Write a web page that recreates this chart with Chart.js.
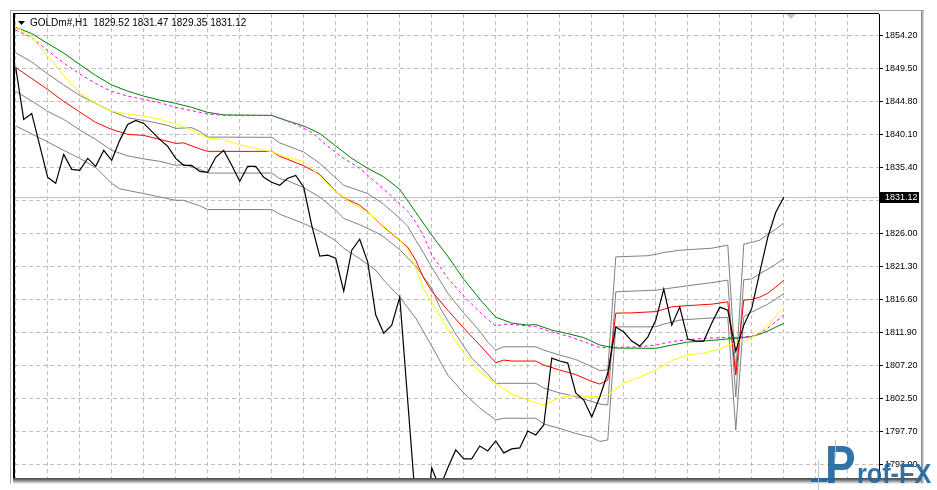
<!DOCTYPE html>
<html>
<head>
<meta charset="utf-8">
<script src="https://cdn.jsdelivr.net/npm/chart.js@4.4.1/dist/chart.umd.min.js"></script>
<style>
html,body{margin:0;padding:0;background:#ffffff;}
canvas{display:block;}
</style>
</head>
<body>
<canvas id="c" width="937" height="490" style="width:937px;height:490px"></canvas>
<script>
// ---- header ----
const symbolName = 'GOLDm#,H1';
const lastOHLC = [1829.52, 1831.47, 1829.35, 1831.12];

// ---- price axis ----
const yTickValues = [1854.2, 1849.5, 1844.8, 1840.1, 1835.4, 1830.7, 1826.0, 1821.3, 1816.6, 1811.9, 1807.2, 1802.5, 1797.7, 1793.0];
const yTickLabels = ['1854.20','1849.50','1844.80','1840.10','1835.40','1830.70','1826.00','1821.30','1816.60','1811.90','1807.20','1802.50','1797.70','1793.00'];
const xGridBars = [0,4,8,12,16,20,24,28,32,36,40,44,48,52,56,60,64,68,72,76,80,84,88,92,96,100,104];

// ---- close prices, one per bar (bar 0 .. 96) ----
const closes = [
 1849.64, 1842.24, 1843.09, 1838.54, 1833.98, 1833.12, 1837.25, 1835.12, 1834.98, 1836.68,
 1835.55, 1837.82, 1836.40, 1839.25, 1841.53, 1842.10, 1841.67, 1840.53, 1839.39, 1838.39,
 1836.68, 1835.69, 1835.69, 1834.83, 1834.69, 1836.83, 1837.82, 1835.69, 1833.41, 1835.55,
 1835.55, 1833.98, 1833.27, 1832.84, 1833.84, 1834.26, 1832.56, 1827.14, 1822.73, 1822.87,
 1822.44, 1817.75, 1823.58, 1825.15, 1821.88, 1814.33, 1811.76, 1812.90, 1816.89, 1802.08,
 1787.27, 1782.29, 1792.54, 1789.69, 1792.54, 1795.10, 1793.82, 1793.82, 1795.67, 1794.96,
 1796.39, 1794.68, 1795.25, 1795.39, 1797.81, 1797.24, 1798.66, 1808.20, 1807.78, 1807.49,
 1803.22, 1802.22, 1799.80, 1802.65, 1806.07, 1812.62, 1811.91, 1810.63, 1809.91, 1811.20,
 1813.62, 1818.03, 1812.90, 1815.47, 1810.91, 1810.63, 1810.63, 1813.19, 1815.47, 1815.04,
 1809.20, 1812.90, 1815.32, 1820.45, 1825.44, 1829.00, 1831.12
];

// ---- indicator lines: [bar, price] ----
const redLine = [[0,1849.64],[2,1848.08],[4,1846.51],[6,1844.80],[8,1843.31],[10,1841.81],[12,1840.81],[14,1840.10],[16,1839.96],[18,1839.39],[20,1838.82],[21,1838.89],[23,1838.04],[24,1837.68],[32,1837.68],[33,1836.97],[34,1836.54],[36,1835.62],[38,1834.41],[40,1831.99],[41,1831.06],[43,1829.99],[44,1829.04],[46,1826.90],[48,1825.01],[49,1824.01],[50,1822.16],[51,1819.60],[52,1817.75],[54,1815.04],[56,1812.48],[58,1810.06],[60,1807.54],[61,1807.92],[62,1807.78],[65,1807.78],[66,1807.21],[68,1806.50],[70,1805.85],[72,1804.86],[73,1804.50],[74,1805.07],[75,1814.61],[77,1814.65],[80,1814.83],[82,1815.51],[83,1815.61],[85,1815.75],[87,1815.89],[89,1816.22],[90,1805.78],[91,1816.46],[92,1816.56],[93,1816.89],[94,1817.46],[95,1818.32],[96,1819.31]];

const grayTop = [[0,1851.74],[2,1850.43],[4,1848.72],[6,1847.15],[8,1845.66],[10,1844.52],[12,1843.38],[14,1842.48],[17,1841.88],[19,1841.38],[20,1840.96],[22,1841.06],[23,1840.53],[24,1839.72],[32,1839.68],[33,1838.89],[34,1838.46],[36,1837.58],[38,1835.97],[40,1833.91],[41,1832.84],[42,1832.46],[44,1831.66],[46,1830.13],[48,1828.14],[49,1827.00],[50,1825.01],[51,1823.16],[52,1821.16],[54,1817.46],[56,1814.61],[58,1812.05],[59,1810.48],[60,1809.34],[61,1809.81],[65,1809.81],[66,1809.34],[68,1808.63],[70,1807.99],[72,1806.99],[73,1806.42],[74,1806.50],[75,1822.63],[79,1822.80],[80,1823.01],[81,1823.26],[83,1823.58],[85,1823.73],[87,1823.87],[89,1824.30],[90,1806.21],[91,1824.44],[92,1824.72],[93,1825.01],[94,1825.86],[95,1826.57],[96,1827.47]];

const grayMid = [[0,1846.23],[2,1844.87],[4,1843.38],[6,1842.24],[8,1840.74],[10,1839.39],[12,1837.82],[14,1837.04],[16,1836.61],[18,1836.26],[20,1835.69],[21,1835.79],[23,1835.12],[24,1834.59],[32,1834.59],[33,1833.79],[34,1833.48],[36,1832.51],[38,1831.17],[40,1829.28],[41,1828.10],[43,1827.22],[45,1826.15],[46,1825.48],[48,1823.66],[50,1821.31],[52,1818.17],[53,1815.47],[55,1811.62],[57,1808.20],[59,1805.93],[60,1804.60],[65,1804.60],[66,1803.93],[68,1803.22],[70,1802.72],[72,1802.01],[73,1801.65],[74,1801.51],[75,1817.65],[80,1817.89],[83,1818.36],[85,1818.67],[87,1818.96],[89,1819.31],[90,1802.65],[91,1819.38],[92,1819.49],[93,1820.24],[94,1820.88],[95,1821.59],[96,1822.40]];

const grayBot = [[0,1841.31],[2,1840.17],[4,1839.03],[6,1837.82],[8,1836.68],[10,1835.40],[12,1833.12],[13,1832.34],[16,1831.66],[20,1830.70],[21,1830.70],[23,1829.92],[24,1829.38],[32,1829.38],[33,1828.71],[34,1828.28],[36,1827.39],[38,1826.29],[40,1824.94],[41,1823.87],[43,1822.37],[45,1820.74],[46,1819.31],[48,1816.89],[50,1813.90],[52,1809.91],[54,1805.78],[56,1803.22],[58,1801.08],[60,1799.38],[61,1799.62],[65,1799.62],[66,1798.81],[68,1798.17],[70,1797.45],[72,1796.88],[73,1796.31],[74,1796.53],[75,1812.66],[80,1812.66],[81,1813.05],[83,1813.62],[86,1813.86],[89,1814.00],[90,1797.95],[91,1814.09],[92,1814.76],[93,1815.32],[94,1815.89],[95,1816.61],[96,1817.42]];

const yellowLine = [[0,1855.52],[2,1853.92],[4,1851.35],[6,1848.50],[8,1846.01],[10,1844.52],[12,1843.42],[14,1843.02],[16,1842.71],[18,1842.24],[20,1841.60],[22,1840.74],[24,1839.60],[26,1839.35],[28,1838.61],[30,1838.11],[32,1837.61],[34,1836.76],[36,1836.26],[38,1834.12],[40,1831.99],[42,1830.28],[44,1829.00],[46,1827.00],[48,1825.08],[49,1823.73],[50,1821.02],[51,1818.03],[52,1816.18],[54,1812.33],[56,1808.92],[58,1806.21],[60,1804.60],[62,1803.08],[64,1802.22],[66,1801.51],[68,1802.58],[70,1802.94],[72,1802.65],[74,1802.94],[76,1804.64],[78,1805.50],[80,1806.50],[82,1807.85],[84,1808.63],[86,1808.92],[88,1809.49],[89,1810.06],[91,1810.63],[92,1811.20],[93,1811.91],[94,1812.90],[95,1814.19],[96,1815.40]];

const magentaLine = [[0,1854.98],[2,1853.92],[4,1852.06],[6,1850.28],[8,1848.72],[10,1847.36],[12,1846.23],[14,1845.56],[16,1845.09],[18,1844.62],[20,1843.95],[22,1843.48],[24,1843.02],[26,1842.81],[32,1842.81],[33,1842.38],[35,1841.53],[37,1840.39],[39,1838.39],[41,1836.68],[43,1835.26],[45,1833.27],[47,1831.27],[49,1829.14],[50,1827.57],[51,1825.58],[52,1822.94],[54,1819.60],[56,1817.03],[58,1814.76],[60,1812.76],[61,1813.05],[63,1812.90],[65,1812.69],[67,1811.91],[69,1811.34],[71,1810.55],[73,1809.70],[75,1809.73],[78,1809.81],[80,1810.06],[82,1810.55],[84,1810.84],[86,1811.01],[88,1811.12],[90,1811.15],[92,1811.34],[93,1811.69],[94,1812.48],[95,1813.40],[96,1814.33]];

const greenLine = [[0,1855.38],[2,1854.48],[4,1853.06],[6,1851.71],[8,1850.07],[10,1848.50],[12,1847.15],[14,1846.27],[16,1845.56],[18,1844.99],[20,1844.52],[22,1843.95],[24,1843.24],[26,1842.88],[32,1842.81],[34,1842.02],[36,1841.31],[38,1840.24],[40,1838.46],[42,1836.68],[44,1835.26],[46,1834.05],[48,1832.27],[50,1829.00],[52,1825.72],[54,1822.73],[56,1819.45],[58,1816.61],[60,1814.04],[62,1813.19],[64,1812.90],[65,1812.98],[67,1812.19],[69,1811.69],[71,1811.12],[73,1810.06],[75,1809.63],[80,1809.59],[82,1810.06],[84,1810.48],[87,1810.73],[90,1811.01],[92,1811.27],[93,1811.62],[94,1812.05],[95,1812.62],[96,1813.15]];

// ---------------------------------------------------------------
const toPts = pairs => pairs.map(p => ({x: p[0], y: p[1]}));
const lastClose = closes[closes.length - 1];

function lineDs(label, data, color, extra) {
  return Object.assign({
    label, data, borderColor: color, borderWidth: 1, pointRadius: 0,
    fill: false, tension: 0, clip: 0
  }, extra || {});
}

const chromePlugin = {
  id: 'chrome',
  beforeDraw(chart) {
    const ctx = chart.ctx;
    ctx.save();
    ctx.fillStyle = '#ffffff';
    ctx.fillRect(0, 0, chart.width, chart.height);
    ctx.restore();
  },
  beforeDatasetsDraw(chart) {
    const {ctx, chartArea: a, scales: {y}} = chart;
    const py = Math.round(y.getPixelForValue(lastClose)) + 0.5;
    ctx.save();
    ctx.strokeStyle = '#c0c0c0';
    ctx.lineWidth = 1;
    ctx.beginPath();
    ctx.moveTo(a.left, py);
    ctx.lineTo(a.right, py);
    ctx.stroke();
    ctx.restore();
  },
  afterDraw(chart) {
    const {ctx, chartArea: a, scales: {y}} = chart;
    ctx.save();
    // outer window edges
    ctx.fillStyle = '#a8a8a8';
    ctx.fillRect(10, 10, 914, 1);
    ctx.fillRect(10, 10, 1, 474);
    // black frame
    ctx.fillStyle = '#000000';
    ctx.fillRect(13, 13, a.right - 13, 1);
    ctx.fillRect(13, 13, 2, a.bottom - 13);
    // bottom shadow
    const bs = ['#555555', '#666666', '#888888', '#aaaaaa', '#cccccc', '#e8e8e8'];
    bs.forEach((c, i) => { ctx.fillStyle = c; ctx.fillRect(13, a.bottom + i, 911, 1); });
    // right shadow
    const rs = ['#8a8a8a', '#b0b0b0', '#d8d8d8'];
    rs.forEach((c, i) => { ctx.fillStyle = c; ctx.fillRect(921 + i, 11, 1, a.bottom - 11 + 5); });
    // chart shift marker
    ctx.fillStyle = '#c4c4c4';
    ctx.beginPath();
    ctx.moveTo(786, 14); ctx.lineTo(796, 14); ctx.lineTo(791, 19); ctx.closePath();
    ctx.fill();
    // title
    ctx.fillStyle = '#000000';
    ctx.beginPath();
    ctx.moveTo(18, 21); ctx.lineTo(25, 21); ctx.lineTo(21.5, 25); ctx.closePath();
    ctx.fill();
    ctx.font = '10px "Liberation Sans", Arial, sans-serif';
    ctx.textBaseline = 'alphabetic';
    ctx.textAlign = 'left';
    ctx.fillText(symbolName + '  ' + lastOHLC.map(v => v.toFixed(2)).join(' '), 30, 26);
    // current price label
    const py = Math.round(y.getPixelForValue(lastClose));
    ctx.fillStyle = '#000000';
    ctx.fillRect(a.right, py - 5, 40, 11);
    ctx.fillStyle = '#ffffff';
    ctx.font = '9px "Liberation Sans", Arial, sans-serif';
    ctx.textBaseline = 'middle';
    ctx.fillText(lastClose.toFixed(2), a.right + 6, py + 0.5);
    // logo
    ctx.fillStyle = 'rgba(34,102,160,0.92)';
    ctx.fillRect(811, 478, 16, 4);
    ctx.textBaseline = 'alphabetic';
    ctx.save();
    ctx.translate(825, 483);
    ctx.scale(0.85, 1);
    ctx.font = 'bold 54px "Liberation Sans", Arial, sans-serif';
    ctx.fillText('P', 0, 0);
    ctx.restore();
    ctx.save();
    ctx.translate(857, 483);
    ctx.scale(0.9, 1);
    ctx.font = 'bold 28px "Liberation Sans", Arial, sans-serif';
    ctx.fillText('rof-FX', 0, 0);
    ctx.restore();
    ctx.strokeStyle = 'rgba(160,200,230,0.9)';
    ctx.lineWidth = 1;
    ctx.beginPath();
    ctx.moveTo(818.5, 460); ctx.lineTo(818.5, 490);
    ctx.moveTo(835.5, 440); ctx.lineTo(835.5, 458);
    ctx.stroke();
    ctx.restore();
  }
};

new Chart(document.getElementById('c'), {
  type: 'line',
  data: {
    datasets: [
      lineDs('Close', closes.map((v, i) => ({x: i, y: v})), '#000000', {borderWidth: 1.2}),
      lineDs('MA yellow', toPts(yellowLine), '#ffff00'),
      lineDs('MA magenta', toPts(magentaLine), '#ff00ff', {borderDash: [3, 3]}),
      lineDs('MA green', toPts(greenLine), '#008000'),
      lineDs('Middle', toPts(redLine), '#ff0000'),
      lineDs('Band top', toPts(grayTop), '#808080'),
      lineDs('Band mid', toPts(grayMid), '#808080'),
      lineDs('Band bottom', toPts(grayBot), '#808080')
    ]
  },
  options: {
    responsive: false,
    animation: false,
    devicePixelRatio: 1,
    events: [],
    layout: {padding: {left: 15, top: 14, right: 0, bottom: 12}},
    plugins: {legend: {display: false}, tooltip: {enabled: false}},
    scales: {
      x: {
        type: 'linear',
        min: -0.0875,
        max: 107.9,
        afterBuildTicks: s => { s.ticks = xGridBars.map(v => ({value: v})); },
        afterFit: s => { s.height = 0; },
        ticks: {display: false},
        grid: {color: '#c0c0c0', lineWidth: 1, drawTicks: false},
        border: {display: false, dash: [4, 3]}
      },
      y: {
        type: 'linear',
        position: 'right',
        min: 1791.10,
        max: 1857.27,
        afterBuildTicks: s => { s.ticks = yTickValues.map(v => ({value: v})); },
        afterFit: s => { s.width = 58; },
        ticks: {
          color: '#000000',
          padding: 2,
          font: {family: '"Liberation Sans", Arial, sans-serif', size: 9},
          autoSkip: false,
          callback: (v, i) => yTickLabels[i]
        },
        grid: {color: '#c0c0c0', lineWidth: 1, drawTicks: true, tickLength: 4, tickColor: '#000000'},
        border: {display: true, color: '#000000', width: 1, dash: [4, 3]}
      }
    }
  },
  plugins: [chromePlugin]
});
</script>
</body>
</html>
